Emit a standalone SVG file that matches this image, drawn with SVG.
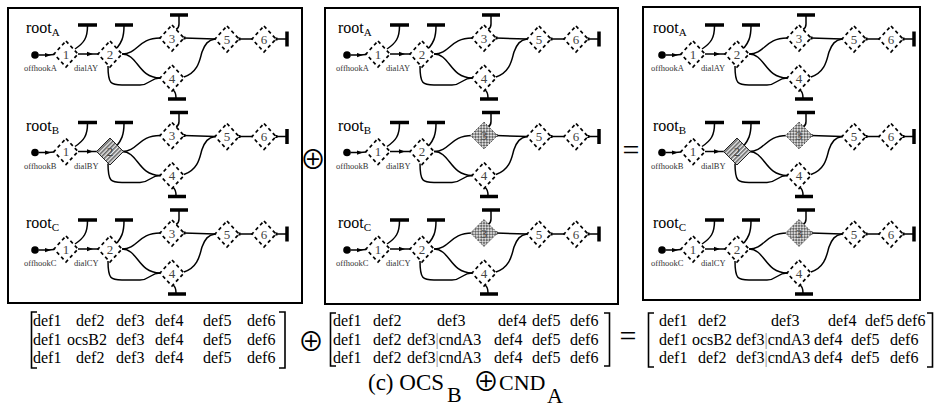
<svg xmlns="http://www.w3.org/2000/svg" xmlns:xlink="http://www.w3.org/1999/xlink" width="942" height="410" viewBox="0 0 942 410">
<style>
.fr{fill:none;stroke:#000;stroke-width:2}
.ln{fill:none;stroke:#000;stroke-width:1.5}
.bar{fill:none;stroke:#000;stroke-width:3.5}
.br{fill:none;stroke:#000;stroke-width:1.6}
.dash{fill:#fff;stroke:#000;stroke-width:1.7;stroke-dasharray:3.5 3}
.hat{fill:url(#hatch);stroke:#222;stroke-width:1}
.chk{fill:url(#check);stroke:#555;stroke-width:1;stroke-dasharray:1.5 1.2}
.nl{font-family:"Liberation Serif",serif;font-size:13px;fill:#444;text-anchor:middle}
.rt{font-family:"Liberation Serif",serif;font-size:16px;fill:#000}
.sub{font-size:11px}
.sm{font-family:"Liberation Serif",serif;font-size:8.5px;fill:#333}
.mx{font-family:"Liberation Serif",serif;font-size:16px;fill:#000}
.op{font-family:"Noto Sans CJK JP","DejaVu Sans",sans-serif;text-anchor:middle;fill:#000}
.eq{font-family:"Liberation Serif",serif;text-anchor:middle;fill:#000}
.cap{font-family:"Liberation Serif",serif;fill:#000}
</style>
<defs>
<marker id="tk" viewBox="0 0 6 6" refX="3" refY="3" markerWidth="6" markerHeight="6" orient="auto" markerUnits="userSpaceOnUse"><path d="M0 0.8 L6 3 L0 5.2 Z" fill="#000"/></marker>
<marker id="dt" viewBox="0 0 4 4" refX="2" refY="2" markerWidth="4" markerHeight="4" orient="auto" markerUnits="userSpaceOnUse"><rect x="0.5" y="0.5" width="3" height="3" fill="#000"/></marker>
<pattern id="hatch" width="3" height="3" patternUnits="userSpaceOnUse" patternTransform="rotate(45)"><rect width="3" height="3" fill="#eee"/><rect width="1.6" height="3" fill="#666"/></pattern>
<pattern id="check" width="4" height="4" patternUnits="userSpaceOnUse" patternTransform="rotate(45)"><rect width="4" height="4" fill="#ddd"/><rect width="2" height="2" fill="#666"/><rect x="2" y="2" width="2" height="2" fill="#666"/></pattern>
<path id="d" d="M0 -13 L12 0 L0 13 L-12 0 Z"/>
<path id="dl" d="M0 -13.5 L13.5 0 L0 13.5 L-13.5 0 Z"/>
<g id="edges">
<path class="ln" d="M38.5 55 L48 55 L54 54.5" marker-mid="url(#tk)"/>
<path class="ln" d="M78 54 L90 54 L98 54" marker-mid="url(#tk)"/>
<path class="bar" d="M78 25 H97"/>
<path class="ln" d="M87.5 26 C87.5 38 84 43 75 49"/>
<path class="bar" d="M115 25 H133"/>
<path class="ln" d="M124 26 C124 38 121 43 117 48"/>
<path class="ln" d="M122 54 C138 54 138 38 160 38"/>
<path class="ln" d="M122 54 C138 54 138 78 160 78"/>
<path class="ln" d="M108 66 C108 84 111 85 122 85 L140 85 C150 85 150 78 160 78"/>
<path class="bar" d="M170 15 H188"/>
<path class="ln" d="M179 16 L179 24 Q179 28 176 29.5"/>
<path class="bar" d="M168 99 H186"/>
<path class="ln" d="M173 90 Q176 92 176 98"/>
<path class="ln" d="M184 38 L215 39" marker-start="url(#dt)"/>
<path class="ln" d="M184 77 C199 72 200 58 202 52 C205 44 208 40 215 39"/>
<path class="ln" d="M239 39 L252 39" marker-start="url(#dt)"/>
<path class="ln" d="M276 39 L287 39" marker-start="url(#dt)"/>
<path class="bar" d="M287 31.5 V46.5"/>
</g>
</defs>
<rect width="942" height="410" fill="#fff"/>
<g id="frames">
<rect class="fr" x="8" y="8" width="294" height="295"/>
<rect class="fr" x="325" y="8" width="293" height="296"/>
<rect class="fr" x="643" y="7" width="277" height="293"/>
</g>
<g id="connectors">
<g transform="translate(0,0)"><use href="#edges"/><text class="sm" x="24" y="71">offhookA</text><text class="sm" x="74" y="71">dialAY</text></g>
<g transform="translate(0,97.5)"><use href="#edges"/><text class="sm" x="24" y="71">offhookB</text><text class="sm" x="74" y="71">dialBY</text></g>
<g transform="translate(0,195)"><use href="#edges"/><text class="sm" x="24" y="71">offhookC</text><text class="sm" x="74" y="71">dialCY</text></g>
<g transform="translate(312,0)"><use href="#edges"/><text class="sm" x="24" y="71">offhookA</text><text class="sm" x="74" y="71">dialAY</text></g>
<g transform="translate(312,97.5)"><use href="#edges"/><text class="sm" x="24" y="71">offhookB</text><text class="sm" x="74" y="71">dialBY</text></g>
<g transform="translate(312,195)"><use href="#edges"/><text class="sm" x="24" y="71">offhookC</text><text class="sm" x="74" y="71">dialCY</text></g>
<g transform="translate(627,0)"><use href="#edges"/><text class="sm" x="24" y="71">offhookA</text><text class="sm" x="74" y="71">dialAY</text></g>
<g transform="translate(627,97.5)"><use href="#edges"/><text class="sm" x="24" y="71">offhookB</text><text class="sm" x="74" y="71">dialBY</text></g>
<g transform="translate(627,195)"><use href="#edges"/><text class="sm" x="24" y="71">offhookC</text><text class="sm" x="74" y="71">dialCY</text></g>
</g>

<g id="p1a" transform="translate(0,0)">
<g id="p1a-root"><circle cx="35" cy="55" r="3.8"/><text class="rt" x="26" y="33">root<tspan class="sub" dy="3">A</tspan></text></g>
<g id="p1a-n1" transform="translate(66,54)"><use href="#d" class="dash"/><text class="nl" y="4.5">1</text></g>
<g id="p1a-n2" transform="translate(110,54)"><use href="#d" class="dash"/><text class="nl" y="4.5">2</text></g>
<g id="p1a-n3" transform="translate(172,38)"><use href="#d" class="dash"/><text class="nl" y="4.5">3</text></g>
<g id="p1a-n4" transform="translate(172,78)"><use href="#d" class="dash"/><text class="nl" y="4.5">4</text></g>
<g id="p1a-n5" transform="translate(227,39)"><use href="#d" class="dash"/><text class="nl" y="4.5">5</text></g>
<g id="p1a-n6" transform="translate(264,39)"><use href="#d" class="dash"/><text class="nl" y="4.5">6</text></g>
</g>
<g id="p1b" transform="translate(0,97.5)">
<g id="p1b-root"><circle cx="35" cy="55" r="3.8"/><text class="rt" x="26" y="33">root<tspan class="sub" dy="3">B</tspan></text></g>
<g id="p1b-n1" transform="translate(66,54)"><use href="#d" class="dash"/><text class="nl" y="4.5">1</text></g>
<g id="p1b-n2" transform="translate(110,54)"><use href="#dl" class="hat"/><text class="nl" y="4.5">2</text></g>
<g id="p1b-n3" transform="translate(172,38)"><use href="#d" class="dash"/><text class="nl" y="4.5">3</text></g>
<g id="p1b-n4" transform="translate(172,78)"><use href="#d" class="dash"/><text class="nl" y="4.5">4</text></g>
<g id="p1b-n5" transform="translate(227,39)"><use href="#d" class="dash"/><text class="nl" y="4.5">5</text></g>
<g id="p1b-n6" transform="translate(264,39)"><use href="#d" class="dash"/><text class="nl" y="4.5">6</text></g>
</g>
<g id="p1c" transform="translate(0,195)">
<g id="p1c-root"><circle cx="35" cy="55" r="3.8"/><text class="rt" x="26" y="33">root<tspan class="sub" dy="3">C</tspan></text></g>
<g id="p1c-n1" transform="translate(66,54)"><use href="#d" class="dash"/><text class="nl" y="4.5">1</text></g>
<g id="p1c-n2" transform="translate(110,54)"><use href="#d" class="dash"/><text class="nl" y="4.5">2</text></g>
<g id="p1c-n3" transform="translate(172,38)"><use href="#d" class="dash"/><text class="nl" y="4.5">3</text></g>
<g id="p1c-n4" transform="translate(172,78)"><use href="#d" class="dash"/><text class="nl" y="4.5">4</text></g>
<g id="p1c-n5" transform="translate(227,39)"><use href="#d" class="dash"/><text class="nl" y="4.5">5</text></g>
<g id="p1c-n6" transform="translate(264,39)"><use href="#d" class="dash"/><text class="nl" y="4.5">6</text></g>
</g>

<g id="p2a" transform="translate(312,0)">
<g id="p2a-root"><circle cx="35" cy="55" r="3.8"/><text class="rt" x="26" y="33">root<tspan class="sub" dy="3">A</tspan></text></g>
<g id="p2a-n1" transform="translate(66,54)"><use href="#d" class="dash"/><text class="nl" y="4.5">1</text></g>
<g id="p2a-n2" transform="translate(110,54)"><use href="#d" class="dash"/><text class="nl" y="4.5">2</text></g>
<g id="p2a-n3" transform="translate(172,38)"><use href="#d" class="dash"/><text class="nl" y="4.5">3</text></g>
<g id="p2a-n4" transform="translate(172,78)"><use href="#d" class="dash"/><text class="nl" y="4.5">4</text></g>
<g id="p2a-n5" transform="translate(227,39)"><use href="#d" class="dash"/><text class="nl" y="4.5">5</text></g>
<g id="p2a-n6" transform="translate(264,39)"><use href="#d" class="dash"/><text class="nl" y="4.5">6</text></g>
</g>
<g id="p2b" transform="translate(312,97.5)">
<g id="p2b-root"><circle cx="35" cy="55" r="3.8"/><text class="rt" x="26" y="33">root<tspan class="sub" dy="3">B</tspan></text></g>
<g id="p2b-n1" transform="translate(66,54)"><use href="#d" class="dash"/><text class="nl" y="4.5">1</text></g>
<g id="p2b-n2" transform="translate(110,54)"><use href="#d" class="dash"/><text class="nl" y="4.5">2</text></g>
<g id="p2b-n3" transform="translate(172,38)"><use href="#dl" class="chk"/><text class="nl" y="4.5">3</text></g>
<g id="p2b-n4" transform="translate(172,78)"><use href="#d" class="dash"/><text class="nl" y="4.5">4</text></g>
<g id="p2b-n5" transform="translate(227,39)"><use href="#d" class="dash"/><text class="nl" y="4.5">5</text></g>
<g id="p2b-n6" transform="translate(264,39)"><use href="#d" class="dash"/><text class="nl" y="4.5">6</text></g>
</g>
<g id="p2c" transform="translate(312,195)">
<g id="p2c-root"><circle cx="35" cy="55" r="3.8"/><text class="rt" x="26" y="33">root<tspan class="sub" dy="3">C</tspan></text></g>
<g id="p2c-n1" transform="translate(66,54)"><use href="#d" class="dash"/><text class="nl" y="4.5">1</text></g>
<g id="p2c-n2" transform="translate(110,54)"><use href="#d" class="dash"/><text class="nl" y="4.5">2</text></g>
<g id="p2c-n3" transform="translate(172,38)"><use href="#dl" class="chk"/><text class="nl" y="4.5">3</text></g>
<g id="p2c-n4" transform="translate(172,78)"><use href="#d" class="dash"/><text class="nl" y="4.5">4</text></g>
<g id="p2c-n5" transform="translate(227,39)"><use href="#d" class="dash"/><text class="nl" y="4.5">5</text></g>
<g id="p2c-n6" transform="translate(264,39)"><use href="#d" class="dash"/><text class="nl" y="4.5">6</text></g>
</g>

<g id="p3a" transform="translate(627,0)">
<g id="p3a-root"><circle cx="35" cy="55" r="3.8"/><text class="rt" x="26" y="33">root<tspan class="sub" dy="3">A</tspan></text></g>
<g id="p3a-n1" transform="translate(66,54)"><use href="#d" class="dash"/><text class="nl" y="4.5">1</text></g>
<g id="p3a-n2" transform="translate(110,54)"><use href="#d" class="dash"/><text class="nl" y="4.5">2</text></g>
<g id="p3a-n3" transform="translate(172,38)"><use href="#d" class="dash"/><text class="nl" y="4.5">3</text></g>
<g id="p3a-n4" transform="translate(172,78)"><use href="#d" class="dash"/><text class="nl" y="4.5">4</text></g>
<g id="p3a-n5" transform="translate(227,39)"><use href="#d" class="dash"/><text class="nl" y="4.5">5</text></g>
<g id="p3a-n6" transform="translate(264,39)"><use href="#d" class="dash"/><text class="nl" y="4.5">6</text></g>
</g>
<g id="p3b" transform="translate(627,97.5)">
<g id="p3b-root"><circle cx="35" cy="55" r="3.8"/><text class="rt" x="26" y="33">root<tspan class="sub" dy="3">B</tspan></text></g>
<g id="p3b-n1" transform="translate(66,54)"><use href="#d" class="dash"/><text class="nl" y="4.5">1</text></g>
<g id="p3b-n2" transform="translate(110,54)"><use href="#dl" class="hat"/><text class="nl" y="4.5">2</text></g>
<g id="p3b-n3" transform="translate(172,38)"><use href="#dl" class="chk"/><text class="nl" y="4.5">3</text></g>
<g id="p3b-n4" transform="translate(172,78)"><use href="#d" class="dash"/><text class="nl" y="4.5">4</text></g>
<g id="p3b-n5" transform="translate(227,39)"><use href="#d" class="dash"/><text class="nl" y="4.5">5</text></g>
<g id="p3b-n6" transform="translate(264,39)"><use href="#d" class="dash"/><text class="nl" y="4.5">6</text></g>
</g>
<g id="p3c" transform="translate(627,195)">
<g id="p3c-root"><circle cx="35" cy="55" r="3.8"/><text class="rt" x="26" y="33">root<tspan class="sub" dy="3">C</tspan></text></g>
<g id="p3c-n1" transform="translate(66,54)"><use href="#d" class="dash"/><text class="nl" y="4.5">1</text></g>
<g id="p3c-n2" transform="translate(110,54)"><use href="#d" class="dash"/><text class="nl" y="4.5">2</text></g>
<g id="p3c-n3" transform="translate(172,38)"><use href="#dl" class="chk"/><text class="nl" y="4.5">3</text></g>
<g id="p3c-n4" transform="translate(172,78)"><use href="#d" class="dash"/><text class="nl" y="4.5">4</text></g>
<g id="p3c-n5" transform="translate(227,39)"><use href="#d" class="dash"/><text class="nl" y="4.5">5</text></g>
<g id="p3c-n6" transform="translate(264,39)"><use href="#d" class="dash"/><text class="nl" y="4.5">6</text></g>
</g>

<g id="operators">
<text class="op" x="313" y="169" font-size="26">⊕</text>
<text class="eq" x="631" y="160" font-size="30">=</text>
<text class="op" x="311" y="351" font-size="26">⊕</text>
<text class="eq" x="628" y="346" font-size="30">=</text>
</g>

<g id="matrix1">
<path class="br" d="M37 312 H31.5 V368 H37"/>
<path class="br" d="M279 312 H285 V368 H279"/>
<text class="mx" y="326"><tspan x="33">def1</tspan><tspan x="76">def2</tspan><tspan x="116">def3</tspan><tspan x="155">def4</tspan><tspan x="203">def5</tspan><tspan x="247">def6</tspan></text>
<text class="mx" y="344.5"><tspan x="33">def1</tspan><tspan x="67">ocsB2</tspan><tspan x="116">def3</tspan><tspan x="155">def4</tspan><tspan x="203">def5</tspan><tspan x="247">def6</tspan></text>
<text class="mx" y="363"><tspan x="33">def1</tspan><tspan x="76">def2</tspan><tspan x="116">def3</tspan><tspan x="155">def4</tspan><tspan x="203">def5</tspan><tspan x="247">def6</tspan></text>
</g>
<g id="matrix2">
<path class="br" d="M336 313 H330.5 V366 H336"/>
<path class="br" d="M604 313 H609.5 V366 H604"/>
<text class="mx" y="326"><tspan x="333">def1</tspan><tspan x="373">def2</tspan><tspan x="437">def3</tspan><tspan x="498">def4</tspan><tspan x="532">def5</tspan><tspan x="570">def6</tspan></text>
<text class="mx" y="344.5"><tspan x="333">def1</tspan><tspan x="373">def2</tspan><tspan x="407">def3</tspan><tspan fill="#888">|</tspan>cndA3<tspan x="494">def4</tspan><tspan x="532">def5</tspan><tspan x="570">def6</tspan></text>
<text class="mx" y="363"><tspan x="333">def1</tspan><tspan x="373">def2</tspan><tspan x="407">def3</tspan><tspan fill="#888">|</tspan>cndA3<tspan x="494">def4</tspan><tspan x="532">def5</tspan><tspan x="570">def6</tspan></text>
</g>
<g id="matrix3">
<path class="br" d="M654 313 H648.5 V367 H654"/>
<path class="br" d="M927 313 H932.5 V367 H927"/>
<text class="mx" y="326"><tspan x="659">def1</tspan><tspan x="698">def2</tspan><tspan x="771">def3</tspan><tspan x="828">def4</tspan><tspan x="865">def5</tspan><tspan x="897">def6</tspan></text>
<text class="mx" y="344.5"><tspan x="659">def1</tspan><tspan x="692">ocsB2</tspan><tspan x="736">def3</tspan><tspan fill="#888">|</tspan>cndA3<tspan x="814">def4</tspan><tspan x="851">def5</tspan><tspan x="890">def6</tspan></text>
<text class="mx" y="363"><tspan x="659">def1</tspan><tspan x="698">def2</tspan><tspan x="736">def3</tspan><tspan fill="#888">|</tspan>cndA3<tspan x="814">def4</tspan><tspan x="851">def5</tspan><tspan x="890">def6</tspan></text>
</g>

<g id="caption">
<text class="cap" x="368" y="390" font-size="23">(c) OCS</text>
<text class="cap" x="447" y="402" font-size="22">B</text>
<text class="op" x="486" y="391" font-size="26">⊕</text>
<text class="cap" x="499" y="390" font-size="22">CND</text>
<text class="cap" x="547" y="403" font-size="22">A</text>
</g>
</svg>
